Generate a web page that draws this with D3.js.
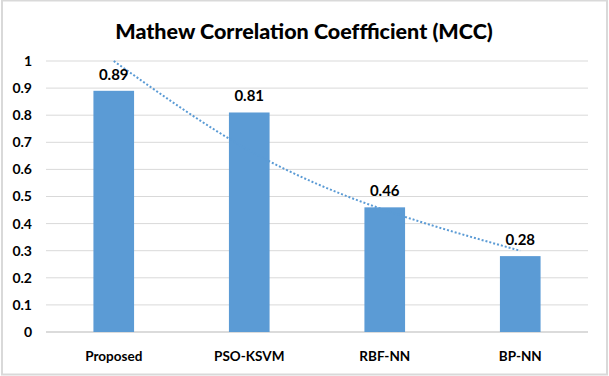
<!DOCTYPE html>
<html>
<head>
<meta charset="utf-8">
<script src="https://cdn.jsdelivr.net/npm/d3@7"></script>
<style>
  body { margin: 0; background: #fff; }
  text { font-family: Lato, "Open Sans", sans-serif; font-weight: bold; fill: #000; }
</style>
</head>
<body>
<div id="chart"></div>
<script>

// data
var methods = ["Proposed", "PSO-KSVM", "RBF-NN", "BP-NN"];
var mccValues = [0.89, 0.81, 0.46, 0.28];
var trendValues = [1.0, 0.67, 0.45, 0.30];   // dotted trend line, read at each category
var yTicks = [0, 0.1, 0.2, 0.3, 0.4, 0.5, 0.6, 0.7, 0.8, 0.9, 1];

function mccChart(){

	var W = 609, H = 376;
	var margin = {top: 61, right: 21, bottom: 44, left: 46},
	    width = W - margin.left - margin.right,
	    height = H - margin.top - margin.bottom;

	var svg = d3.select("#chart").append("svg")
	    .attr("width", W)
	    .attr("height", H);

	// outer frame
	svg.append("rect")
	    .attr("x", 2).attr("y", 0.5)
	    .attr("width", W - 4).attr("height", H - 2)
	    .attr("fill", "none")
	    .attr("stroke", "#d9d9d9")
	    .attr("stroke-width", 2);

	// title
	svg.append("text")
	    .attr("x", 304)
	    .attr("y", 39)
	    .attr("text-anchor", "middle")
	    .style("font-size", "21.5px")
	    .style("font-weight", "900")
	    .text("Mathew Correlation Coeffficient (MCC)");

	var g = svg.append("g")
	    .attr("transform", "translate(" + margin.left + "," + margin.top + ")");

	// scales
	var x = d3.scaleBand()
	    .domain(methods)
	    .range([0, width])
	    .paddingInner(0.7)
	    .paddingOuter(0.35);
	var y = d3.scaleLinear()
	    .domain([0, 1])
	    .range([height, 0]);

	// gridlines
	g.selectAll(".grid")
	    .data(yTicks)
	  .enter().append("line")
	    .attr("class", "grid")
	    .attr("x1", 0).attr("x2", width)
	    .attr("y1", function(d){ return y(d); })
	    .attr("y2", function(d){ return y(d); })
	    .attr("stroke", function(d){ return d === 0 ? "#cfcfcf" : "#d9d9d9"; })
	    .attr("stroke-width", function(d){ return d === 0 ? 1.5 : 1; });

	// y axis labels
	var ya = d3.axisLeft(y).tickValues(yTicks).tickSize(0).tickPadding(14)
	    .tickFormat(function(d){ return d === 0 || d === 1 ? d3.format("d")(d) : d3.format(".1f")(d); });
	g.append("g")
	    .call(ya)
	    .call(function(s){ s.select(".domain").remove(); })
	    .selectAll("text")
	    .style("font-size", "14px");

	// x axis labels
	var xa = d3.axisBottom(x).tickSize(0).tickPadding(19);
	g.append("g")
	    .attr("transform", "translate(0," + height + ")")
	    .call(xa)
	    .call(function(s){ s.select(".domain").remove(); })
	    .selectAll("text")
	    .style("font-size", "13.5px");

	// bars
	g.selectAll(".bar")
	    .data(mccValues)
	  .enter().append("rect")
	    .attr("class", "bar")
	    .attr("x", function(d, i){ return x(methods[i]); })
	    .attr("width", x.bandwidth())
	    .attr("y", function(d){ return y(d); })
	    .attr("height", function(d){ return height - y(d); })
	    .attr("fill", "#5b9bd5");

	// trend line
	var line = d3.line()
	    .x(function(d, i){ return x(methods[i]) + x.bandwidth() / 2; })
	    .y(function(d){ return y(d); })
	    .curve(d3.curveNatural);
	g.append("path")
	    .datum(trendValues)
	    .attr("d", line)
	    .attr("fill", "none")
	    .attr("stroke", "#5b9bd5")
	    .attr("stroke-width", 2)
	    .attr("stroke-dasharray", "2,2");

	// value labels
	g.selectAll(".val")
	    .data(mccValues)
	  .enter().append("text")
	    .attr("class", "val")
	    .attr("x", function(d, i){ return x(methods[i]) + x.bandwidth() / 2; })
	    .attr("y", function(d){ return y(d) - 11; })
	    .attr("text-anchor", "middle")
	    .style("font-size", "15px")
	    .text(function(d){ return d3.format(".2f")(d); });
}

mccChart();
</script>
</body>
</html>
